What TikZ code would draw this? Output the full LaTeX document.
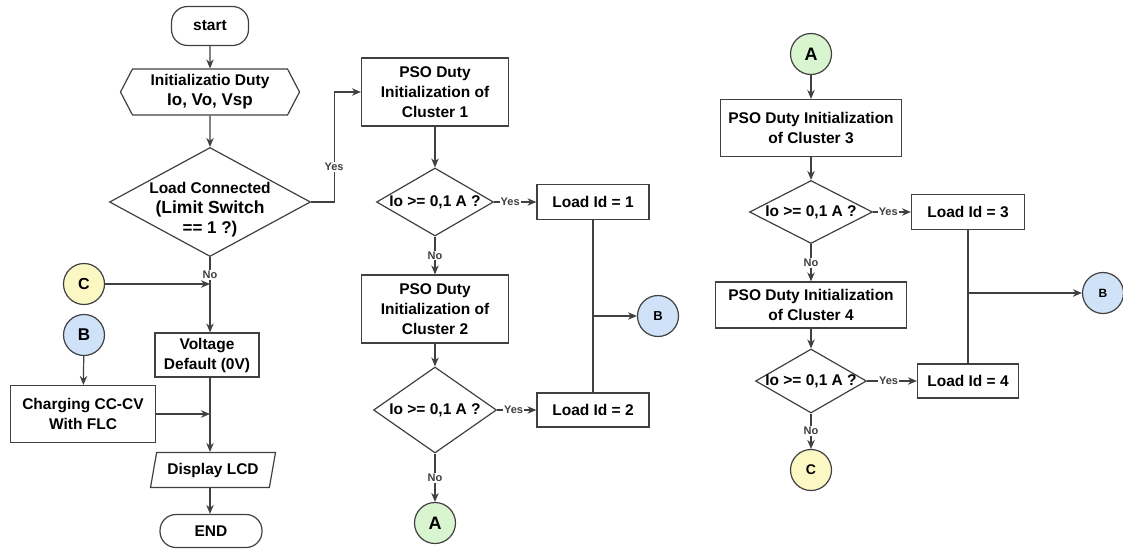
\documentclass[tikz,border=0pt]{standalone}
\usepackage{fontspec}
\setmainfont{Liberation Sans}
\usetikzlibrary{positioning,shapes.geometric,shapes.symbols,arrows.meta}
\definecolor{lnclr}{HTML}{404040}
\definecolor{agreen}{HTML}{D9F5CF}
\definecolor{bblue}{HTML}{CFE2F7}
\definecolor{cyellow}{HTML}{FBF8C4}
\newcommand{\fs}[1]{\fontsize{#1}{#1}\selectfont}
\tikzset{
  every node/.style={font=\bfseries\fontsize{15.5}{20}\selectfont, text=black},
  term/.style 2 args={draw=lnclr, line width=1.2pt, rounded corners=16pt, minimum width=#1, minimum height=#2},
  proc/.style 2 args={draw=lnclr, line width=1.2pt, rectangle, align=center, inner sep=0pt, minimum width=#1, minimum height=#2},
  dec/.style 2 args={draw=lnclr, line width=1.2pt, diamond, aspect=1.8, align=center, inner sep=-8pt, minimum width=#1, minimum height=#2},
  hexa/.style={draw=lnclr, line width=1.2pt, signal, signal to=east and west, signal pointer angle=125, align=center, inner sep=0pt, minimum width=179pt, minimum height=46pt},
  para/.style={draw=lnclr, line width=1.2pt, trapezium, trapezium left angle=67, trapezium right angle=113, trapezium stretches body, inner sep=0pt, minimum width=125pt, minimum height=35pt},
  conn/.style 2 args={draw=lnclr, line width=1.2pt, circle, fill=#1, inner sep=0pt, minimum size=41pt, font=\bfseries\fs{#2}},
  flow/.style={draw=lnclr, line width=1.2pt, -{Stealth[length=9pt, width=7.5pt]}},
  link/.style={draw=lnclr, line width=1.2pt},
  yn/.style={fill=white, inner sep=1pt, text=lnclr, font=\bfseries\fs{11}}
}
\begin{document}
\begin{tikzpicture}[x=1pt,y=-1pt]
\useasboundingbox (0,0) rectangle (1123,549);
% left column
\node[term={77pt}{39pt}] (start) at (210,26) {start};
\node[hexa] (init) at (210,92) {Initializatio Duty\\{\fs{17}Io, Vo, Vsp}};
\node[dec={201pt}{109pt}, label={[name=loadtxt, align=center, yshift=-8pt]center:Load Connected\\{\fs{17.5}(Limit Switch}\\{\fs{17}== 1 ?)}}] (load) at (210,202) {};
\node[proc={104pt}{44pt}] (volt) at (207,355) {Voltage\\Default (0V)};
\node[para] (lcd) at (213,470) {Display LCD};
\node[term={102pt}{33pt}] (end) at (211,531) {END};
\node[conn={cyellow}{16}] (cL) at (84,284) {C};
\node[conn={bblue}{17}] (bL) at (84,335) {B};
\node[proc={145pt}{57pt}] (chg) at (83,414) {Charging CC-CV\\With FLC};

% middle column
\node[proc={147pt}{68pt}] (pso1) at (435,92) {PSO Duty\\Initialization of\\Cluster 1};
\node[dec={117pt}{68pt}] (d1) at (435,202) {Io >= 0,1 A ?};
\node[proc={112pt}{35pt}] (id1) at (593,202) {Load Id = 1};
\node[proc={147pt}{68pt}] (pso2) at (435,309) {PSO Duty\\Initialization of\\Cluster 2};
\node[dec={123pt}{86pt}] (d2) at (435,410) {Io >= 0,1 A ?};
\node[proc={112pt}{34pt}] (id2) at (593,410) {Load Id = 2};
\node[conn={agreen}{18}] (aM) at (435,523) {A};
\node[conn={bblue}{13}] (bM) at (658,316) {B};

\draw[flow] (start) -- (init);
\draw[flow] (init) -- (load);
\draw[flow] (load.east) -- ++(23,0) |- node[yn, pos=0.16] {Yes} (pso1.west);
\draw[flow] (load.south) -- node[yn, pos=0.24] {No} (load.south |- volt.north);
\draw[flow] (cL) -- (cL -| load.south);
\draw[flow] (bL) -- (chg);
\draw[flow] (chg.east) -- (chg.east -| load.south);
\draw[flow] (load.south |- volt.south) -- (load.south |- lcd.north);
\draw[flow] (load.south |- lcd.south) -- (load.south |- end.north);

\draw[flow] (pso1) -- (d1);
\draw[flow] (d1) -- node[yn, pos=0.38] {Yes} (id1);
\draw[flow] (d1) -- node[yn] {No} (pso2);
\draw[flow] (pso2) -- (d2);
\draw[flow] (d2) -- node[yn, pos=0.42] {Yes} (id2);
\draw[flow] (d2) -- node[yn] {No} (aM);
\draw[link] (id1) -- (id2);
\draw[flow] (id1.south |- bM) -- (bM);

% right column
\node[conn={agreen}{18}] (aR) at (811,54) {A};
\node[proc={181pt}{57pt}] (pso3) at (811,128) {PSO Duty Initialization\\of Cluster 3};
\node[dec={123pt}{63pt}] (d3) at (811,212) {Io >= 0,1 A ?};
\node[proc={113pt}{35pt}] (id3) at (968,212) {Load Id = 3};
\node[proc={191pt}{46pt}] (pso4) at (811,305) {PSO Duty Initialization\\of Cluster 4};
\node[dec={111pt}{64pt}] (d4) at (811,381) {Io >= 0,1 A ?};
\node[proc={101pt}{34pt}] (id4) at (968,381) {Load Id = 4};
\node[conn={cyellow}{14}] (cR) at (811,470) {C};
\node[conn={bblue}{12}] (bR) at (1103,293) {B};

\draw[flow] (aR) -- (pso3);
\draw[flow] (pso3) -- (d3);
\draw[flow] (d3) -- node[yn, pos=0.4] {Yes} (id3);
\draw[flow] (d3) -- node[yn] {No} (pso4);
\draw[flow] (pso4) -- (d4);
\draw[flow] (d4) -- node[yn, pos=0.43] {Yes} (id4);
\draw[flow] (d4) -- node[yn] {No} (cR);
\draw[link] (id3) -- (id4);
\draw[flow] (id3.south |- bR) -- (bR);
\end{tikzpicture}
\end{document}
